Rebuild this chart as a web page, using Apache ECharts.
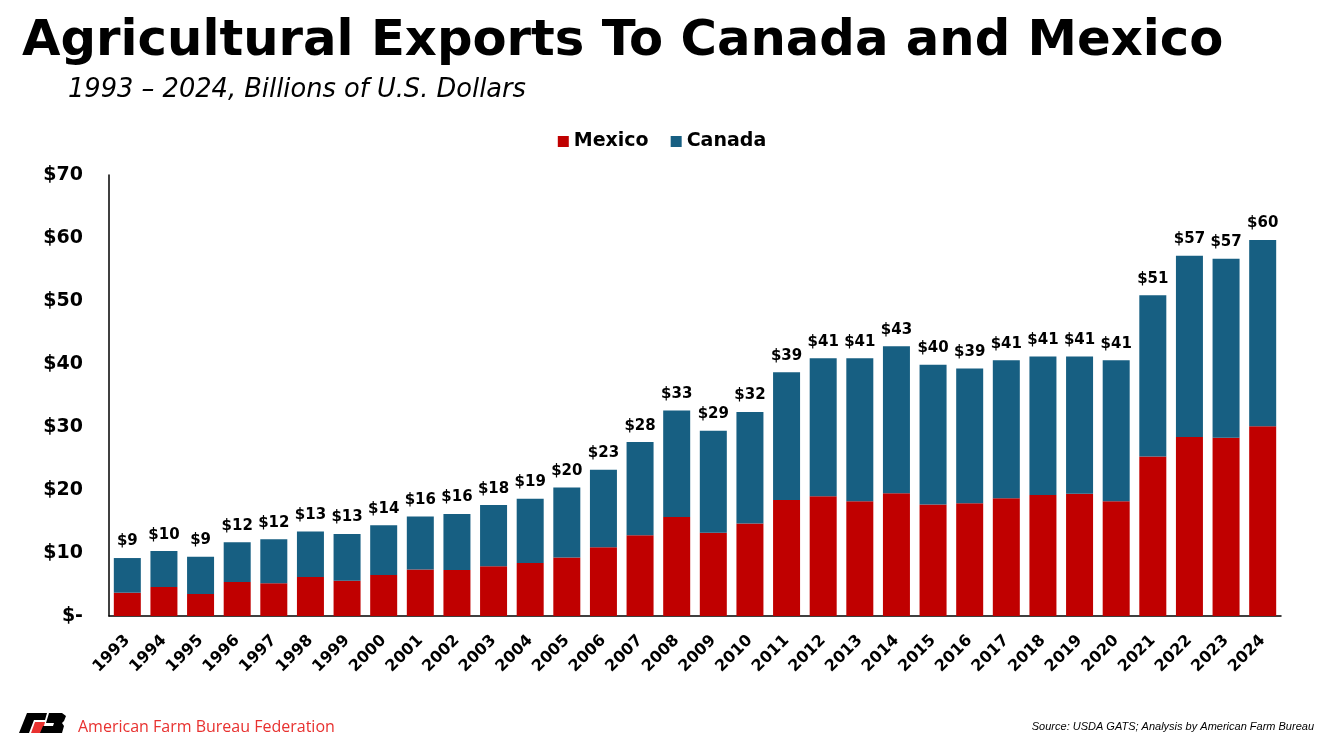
<!DOCTYPE html>
<html>
<head>
<meta charset="utf-8">
<script src="https://cdn.jsdelivr.net/npm/echarts@6/dist/echarts.min.js"></script>
<style>
html,body{margin:0;padding:0;background:#fff;}
#chart{width:1324px;height:744px;}
</style>
</head>
<body>
<div id="chart"></div>
<script>
var years = ['1993','1994','1995','1996','1997','1998','1999','2000','2001','2002','2003','2004','2005','2006','2007','2008','2009','2010','2011','2012','2013','2014','2015','2016','2017','2018','2019','2020','2021','2022','2023','2024'];
var mexico = [3.7,4.6,3.5,5.4,5.2,6.2,5.6,6.5,7.4,7.3,7.9,8.4,9.3,10.9,12.8,15.7,13.2,14.7,18.4,19.0,18.2,19.5,17.7,17.9,18.7,19.2,19.4,18.2,25.3,28.4,28.3,30.1];
var canada = [5.5,5.7,5.9,6.3,7.0,7.2,7.4,7.9,8.4,8.9,9.7,10.2,11.1,12.3,14.8,16.9,16.2,17.7,20.3,21.9,22.7,23.3,22.2,21.4,21.9,22.0,21.8,22.4,25.6,28.8,28.4,29.6];
var yTicks = [0,10,20,30,40,50,60,70];

var chart = echarts.init(document.getElementById('chart'));
var bold = 'DejaVu Sans';
chart.setOption({
  animation:false,
  backgroundColor:'#fff',
  title:[
    {text:'Agricultural Exports To Canada and Mexico',left:17,top:12,
     textStyle:{fontFamily:'DejaVu Sans',fontWeight:'bold',fontSize:49.7,color:'#000'}},
    {text:'1993 \u2013 2024, Billions of U.S. Dollars',left:63,top:72,
     textStyle:{fontFamily:'DejaVu Sans',fontStyle:'italic',fontWeight:'normal',fontSize:25.7,color:'#000'}}
  ],
  legend:{
    data:['Mexico','Canada'],top:127,left:'center',itemWidth:11,itemHeight:11,itemGap:22,
    icon:'rect',
    textStyle:{fontFamily:'DejaVu Sans',fontWeight:'bold',fontSize:19,color:'#000'}
  },
  grid:{left:109,right:43,top:175,bottom:128,containLabel:false},
  xAxis:{
    type:'category',data:years,
    axisLine:{lineStyle:{color:'#000',width:1.5}},
    axisTick:{show:false},
    axisLabel:{rotate:45,interval:0,margin:22,fontFamily:bold,fontWeight:'bold',fontSize:16,color:'#000'}
  },
  yAxis:{
    type:'value',min:0,max:70,interval:10,
    splitLine:{show:false},
    axisLine:{show:true,lineStyle:{color:'#000',width:1.5}},
    axisTick:{show:false},
    axisLabel:{margin:26,fontFamily:bold,fontWeight:'bold',fontSize:19,color:'#000',
      formatter:function(v){return v===0?'$-':'$'+v;}}
  },
  series:[
    {name:'Mexico',type:'bar',stack:'t',data:mexico,barWidth:27,itemStyle:{color:'#C00000'}},
    {name:'Canada',type:'bar',stack:'t',data:canada,barWidth:27,itemStyle:{color:'#175F82'},
     label:{show:true,position:'top',distance:9,fontFamily:bold,fontWeight:'bold',fontSize:15,color:'#000',
       formatter:function(p){return '$'+Math.round(mexico[p.dataIndex]+canada[p.dataIndex]);}}}
  ],
  graphic:[
    {type:'polygon',shape:{points:[[27,713],[47,713],[45,720],[34,720],[29,733],[19,733]]},style:{fill:'#000'}},
    {type:'polygon',shape:{points:[[35,722],[45,722],[42,733],[31,733]]},style:{fill:'#E8312F'}},
    {type:'polygon',shape:{points:[[49,713],[62,713],[66,716],[64,721],[62,723],[64,726],[62,733],[40,733],[43,726],[53,726],[54,723],[46,723]]},style:{fill:'#000'}},
    {type:'text',left:78,top:719,style:{text:'American Farm Bureau Federation',fontFamily:'Open Sans',fontSize:16,fill:'#E8312F'}},
    {type:'text',right:10,top:721,style:{text:'Source: USDA GATS; Analysis by American Farm Bureau',fontFamily:'Liberation Sans',fontStyle:'italic',fontSize:11,fill:'#000'}}
  ]
});
</script>
</body>
</html>
